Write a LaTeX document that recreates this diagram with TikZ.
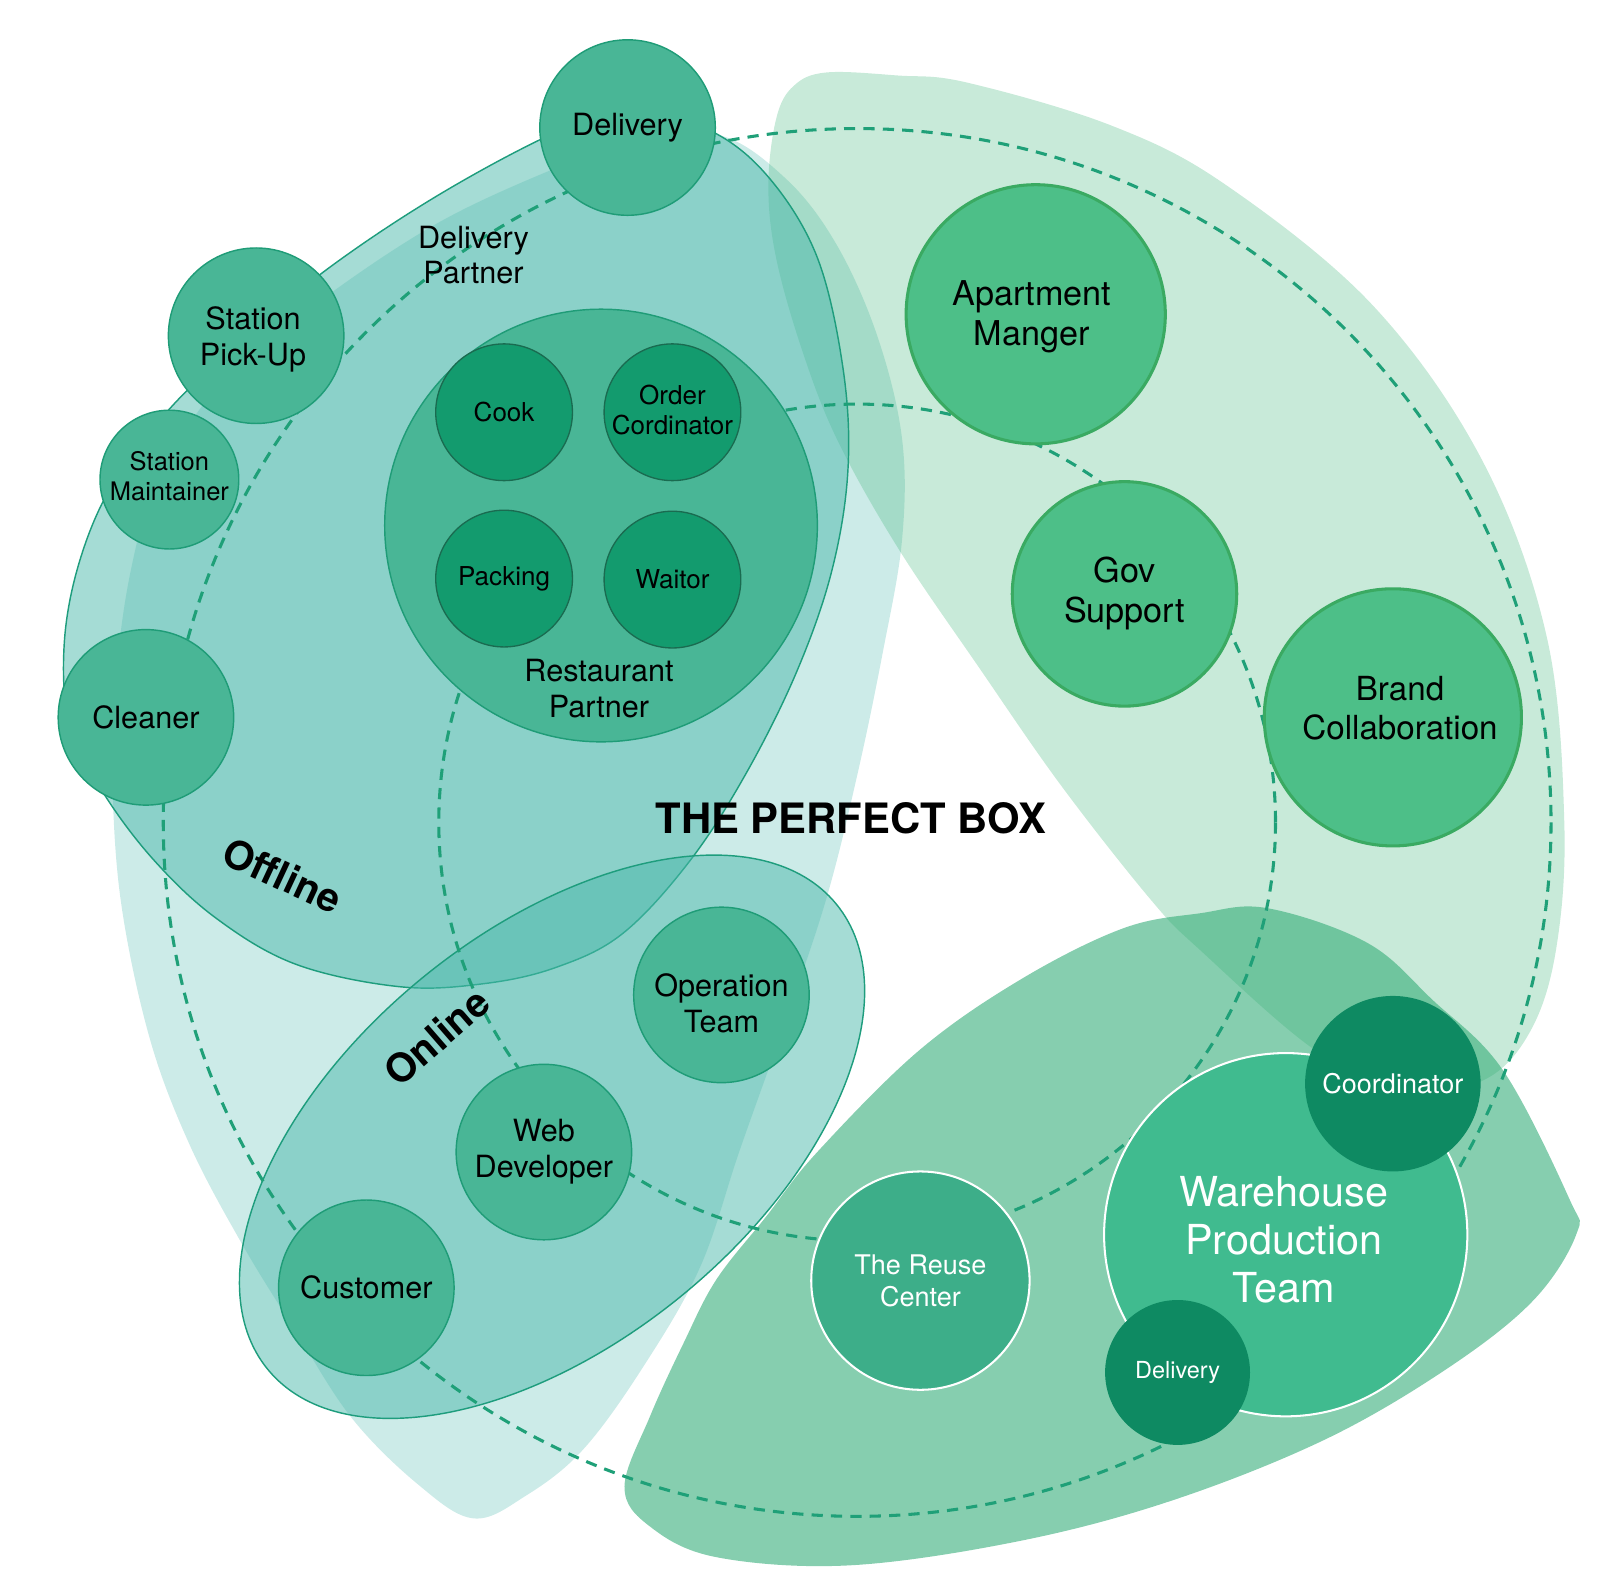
\documentclass[tikz,border=0pt]{standalone}
\usepackage{fontspec}
\setmainfont{TeX Gyre Heros}
\definecolor{paleteal}{HTML}{CCEBE8}
\definecolor{offfill}{HTML}{4BB9AB}
\definecolor{offstroke}{HTML}{1E9D7D}
\definecolor{palegreen}{HTML}{48B980}
\definecolor{wareblob}{HTML}{2FAB75}
\definecolor{dashc}{HTML}{1FA078}
\definecolor{tealnode}{HTML}{49B696}
\definecolor{tealstroke}{HTML}{1F9C77}
\definecolor{darknode}{HTML}{139B6E}
\definecolor{darkstroke}{HTML}{1A6B50}
\definecolor{greennode}{HTML}{4DBF88}
\definecolor{greenstroke}{HTML}{3AAA62}
\definecolor{warenode}{HTML}{40BB8F}
\definecolor{reusenode}{HTML}{3DAE89}
\definecolor{coordnode}{HTML}{0E8A62}
\begin{document}
\begin{tikzpicture}[x=1pt,y=-1pt,
  fs/.style={font=\fontsize{#1}{\fpeval{#1*1.17}}\selectfont},
  circ/.style={circle, inner sep=0pt, align=center, minimum size={2*#1pt}},
  tnode/.style={circ=#1, fill=tealnode, draw=tealstroke, line width=1.4pt, text=black, fs=30},
  dnode/.style={circ=#1, fill=darknode, draw=darkstroke, line width=1.3pt, text=black, fs=25.5},
  gnode/.style={circ=#1, fill=greennode, draw=greenstroke, line width=3pt, text=black, fs=33.5},
  wnode/.style={circ=#1, draw=white, line width=2pt, text=white},
  cnode/.style={circ=#1, fill=coordnode, draw=none, text=white, fs=26.5},
  txt/.style={align=center, inner sep=0pt, fs=#1},
  grouplabel/.style={align=center, text=black, fs=30},
  blobline/.style={draw=offstroke, line width=1.4pt, fill=offfill, fill opacity=0.5},
  dashline/.style={draw=dashc, line width=3pt, dash pattern=on 11pt off 8pt},
]
\useasboundingbox (0,0) rectangle (1568,1552.32);

% pale teal leaf
\fill[paleteal] plot[smooth cycle, tension=0.6] coordinates {
 (615,140) (532,170) (430,218) (330,283) (250,347) (195,402) (150,482)
 (128,560) (115,650) (110,750) (118,880) (146,1015) (185,1120) (236,1217)
 (290,1305) (345,1390) (410,1455) (464,1488) (515,1466) (571,1421)
 (630,1340) (686,1242) (725,1127) (770,1000) (810,880) (840,760)
 (865,640) (884,529) (884,430) (860,330) (820,240) (770,175) (703,132)};

% pale green leaf
\fill[palegreen, fill opacity=0.3] plot[smooth cycle, tension=0.6] coordinates {
 (761,115) (778,84) (810,71) (880,74) (948,81) (1089,123) (1201,181)
 (1346,300) (1453,452) (1516,625) (1533,806) (1525,930) (1500,1010)
 (1455,1058) (1380,1070) (1290,1030) (1176,931) (1128,882) (1040,770)
 (960,655) (880,537) (820,430) (785,340) (760,250) (753,180)};

% warehouse blob
\fill[wareblob, fill opacity=0.58] plot[smooth cycle, tension=0.6] coordinates {
 (612,1457) (637,1496) (702,1526) (833,1534) (1000,1510) (1150,1470)
 (1300,1410) (1420,1340) (1503,1274) (1545,1209) (1538,1175) (1473,1049)
 (1404,980) (1340,924) (1242,890) (1176,895) (1100,910) (1000,960)
 (900,1030) (800,1130) (751,1192) (702,1254) (670,1316) (637,1388)};

% offline blob
\path[blobline] plot[smooth cycle, tension=0.6] coordinates {
 (529,137) (420,197) (315,268) (230,340) (165,402) (110,475) (78,550)
 (63,630) (68,710) (100,775) (150,842) (212,900) (290,945) (392,967)
 (474,964) (545,948) (610,915) (675,845) (730,760) (780,660) (815,560)
 (831,460) (826,360) (800,250) (750,170) (690,125) (610,105)};

% online blob
\path[blobline, rotate around={39.3:(541,1114)}] (541,1114) ellipse [x radius=360, y radius=201];

% dashed rings
\coordinate (hub) at (840,806);
\draw[dashline] (hub) circle [radius=680];
\draw[dashline] (hub) circle [radius=410];

% nodes
\node[tnode=86] (delivery) at (615,125) {Delivery};
\node[tnode=86] (pickup) at (251,329) {};
\node[txt=30] at ([shift={(-3,4)}]pickup.center) {Station\\Pick-Up};
\node[tnode=68, fs=25] (maint) at (166,470) {};
\node[txt=25] at ([shift={(0,-3)}]maint.center) {Station\\Maintainer};
\node[tnode=86] (cleaner) at (143,703) {Cleaner};
\node[grouplabel] (dpartner) at (464,250) {Delivery\\Partner};

\node[tnode=212] (restaurant) at (589,515) {};
\node[dnode=67] (cook) at (494,404) {Cook};
\node[dnode=67] (ordercord) at (659,404) {};
\node[txt=25.5] at ([shift={(0,-2)}]ordercord.center) {Order\\Cordinator};
\node[dnode=67] (packing) at (494,567) {Packing};
\node[dnode=67] (waitor) at (659,568) {Waitor};
\node[grouplabel] (rpartner) at (587,675) {Restaurant\\Partner};

\node[gnode=127] (apartment) at (1015,308) {};
\node[txt=33.5] at ([shift={(-4,2)}]apartment.center) {Apartment\\Manger};
\node[gnode=110] (gov) at (1102,582) {Gov\\Support};
\node[gnode=126] (brand) at (1365,703) {};
\node[txt=32.5] at ([shift={(7,-9)}]brand.center) {Brand\\Collaboration};

\node[tnode=86] (operation) at (707,975) {};
\node[txt=30] at ([shift={(0,8)}]operation.center) {Operation\\Team};
\node[tnode=86] (webdev) at (533,1129) {Web\\Developer};
\node[tnode=86] (customer) at (359,1262) {Customer};

\node[wnode=107, fill=reusenode, fs=26.5] (reuse) at (902,1255) {The Reuse\\Center};
\node[wnode=178, fill=warenode] (warehouse) at (1260,1210) {};
\node[txt=40.5, text=white] at ([shift={(-2,5)}]warehouse.center) {Warehouse\\Production\\Team};
\node[cnode=86] (coord) at (1365,1062) {Coordinator};
\node[cnode=71, fs=23] (delivery2) at (1154,1345) {Delivery};

% titles
\node[font=\fontsize{41}{48}\selectfont\bfseries] (title) at (834,802) {THE PERFECT BOX};
\node[font=\fontsize{39}{46}\selectfont\bfseries, rotate=-25] (offline) at (277,858) {Offline};
\node[font=\fontsize{39}{46}\selectfont\bfseries, rotate=41] (online) at (428,1016) {Online};
\end{tikzpicture}
\end{document}
